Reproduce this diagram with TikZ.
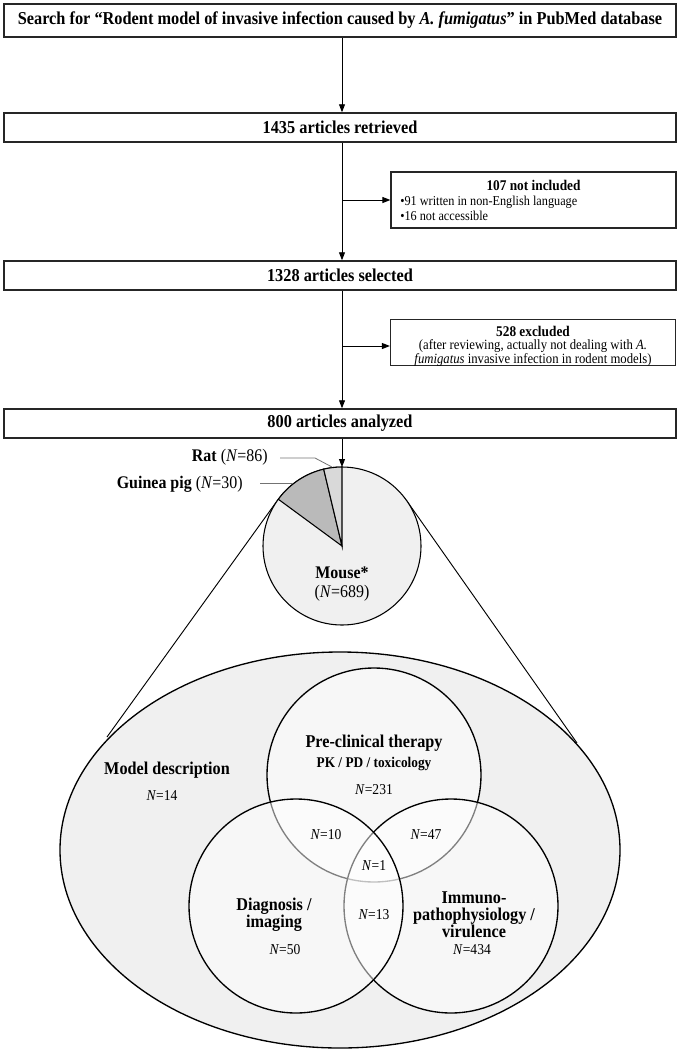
\documentclass[tikz,border=0pt]{standalone}
\usepackage{fontspec}
\setmainfont{Liberation Serif}[FakeStretch=0.9]
\usetikzlibrary{arrows.meta}
\begin{document}
\begin{tikzpicture}[x=0.75pt,y=-0.75pt,
  mainbox/.style={draw=black!85,line width=1.1pt,minimum width=504pt,inner sep=0pt,font=\fontsize{13.6pt}{15pt}\selectfont\bfseries},
  sidebox/.style={draw=black!85,line width=0.9pt,minimum width=213.75pt,inner sep=0pt},
  arr/.style={-{Triangle[length=6pt,width=4.5pt]},line width=0.7pt},
  lead/.style={draw=black!55,line width=0.6pt},
  big/.style={font=\fontsize{13.5pt}{12.75pt}\selectfont\bfseries,align=center,inner sep=0pt},
  num/.style={font=\fontsize{11.3pt}{12pt}\selectfont,inner sep=0pt},
  lab/.style={font=\fontsize{13.3pt}{14pt}\selectfont,inner sep=0pt},
  small/.style={font=\fontsize{10.2pt}{11pt}\selectfont,inner sep=0pt,anchor=west},
  venn/.style={draw=black,line width=1pt,fill=white,fill opacity=0.5}
]
\useasboundingbox (0,0) rectangle (680,1050);

% flow boxes
\node[mainbox,minimum height=24.75pt] (search) at (340,20.5) {Search for “Rodent model of invasive infection caused by \textit{A. fumigatus}” in PubMed database};
\node[mainbox,minimum height=21.75pt] (retr) at (340,127.5) {1435 articles retrieved};
\node[mainbox,minimum height=21.75pt] (sel) at (340,275.5) {1328 articles selected};
\node[mainbox,minimum height=21.75pt] (anal) at (340,423.5) {800 articles analyzed};

\node[sidebox,minimum height=42pt] (notinc) at (533.5,200) {};
\node[font=\fontsize{11.1pt}{12pt}\selectfont\bfseries,inner sep=0pt] (t1) at (533.5,185) {107 not included};
\node[small] (t2) at (400,202) {•91 written in non-English language};
\node[small] (t3) at (400,216) {•16 not accessible};

\node[sidebox,minimum height=35pt] (excl) at (533,342.5) {};
\node[font=\fontsize{10.6pt}{9.6pt}\selectfont,inner sep=0pt,align=center] (e1) at (533,346.5)
  {{\fontsize{11.1pt}{9.6pt}\selectfont\bfseries 528 excluded}\\(after reviewing, actually not dealing with \textit{A.}\\\textit{fumigatus} invasive infection in rodent models)};

\coordinate (j1) at (342,200);
\coordinate (j2) at (342,346);
\draw[arr] (search.south -| 342,0) -- (retr.north -| 342,0);
\draw[arr] (retr.south -| 342,0) -- (sel.north -| 342,0);
\draw[arr] (sel.south -| 342,0) -- (anal.north -| 342,0);
\draw[arr] (j1) -- (notinc.west |- j1);
\draw[arr] (j2) -- (excl.west |- j2);

% pie
\coordinate (pc) at (342,546);
\coordinate (pl) at (278.3,499.2);
\coordinate (pr) at (406.7,500.7);
\coordinate (el) at (107,737);
\coordinate (er) at (577,743);
\draw[line width=0.7pt] (pl) -- (el);
\draw[line width=0.7pt] (pr) -- (er);
\draw[line width=0.8pt,fill=black!6] (pc) circle [radius=79];
\draw[line width=0.8pt,fill=black!27] (pc) -- ++(-103.4:79) arc[start angle=-103.4,end angle=-143.7,radius=79] -- cycle;
\draw[line width=0.8pt,fill=black!15] (pc) -- ++(-90:79) arc[start angle=-90,end angle=-103.4,radius=79] -- cycle;
\coordinate (ptop) at (342,467);
\draw[arr] (anal.south -| 342,0) -- (ptop);

\node[lab,anchor=east] (rat) at (268,457) {\textbf{Rat} (\textit{N}=86)};
\node[lab,anchor=east] (gp) at (243,484) {\textbf{Guinea pig} (\textit{N}=30)};
\draw[lead] (280,458) -- (315,458) -- (332,467);
\draw[lead] (260,483) -- (293,483);
\node[lab,font=\fontsize{13.3pt}{14pt}\selectfont\bfseries] (mouse) at (342,573) {Mouse*};
\node[lab] (mn) at (342,593) {(\textit{N}=689)};

% ellipse and venn
\draw[line width=1pt,fill=black!6] (340,850) ellipse [x radius=280,y radius=198];
\draw[venn] (374,775) circle [radius=107];
\draw[venn] (451,906) circle [radius=107];
\draw[venn] (296,906) circle [radius=107];

\node[big] (pre) at (374,743) {Pre-clinical therapy};
\node[font=\fontsize{11.1pt}{12pt}\selectfont\bfseries,inner sep=0pt] (pk) at (374,764) {PK / PD / toxicology};
\node[num] (n231) at (374,790) {\textit{N}=231};
\node[big] (model) at (167,770) {Model description};
\node[num] (n14) at (162,796) {\textit{N}=14};
\node[num] (n10) at (326,835) {\textit{N}=10};
\node[num] (n47) at (426,835) {\textit{N}=47};
\node[num] (n1) at (374,866) {\textit{N}=1};
\node[num] (n13) at (374,915) {\textit{N}=13};
\node[big] (diag) at (274,915) {Diagnosis /\\imaging};
\node[num] (n50) at (285,950) {\textit{N}=50};
\node[big] (imm) at (474,915) {Immuno-\\pathophysiology /\\virulence};
\node[num] (n434) at (472,950) {\textit{N}=434};
\end{tikzpicture}
\end{document}
